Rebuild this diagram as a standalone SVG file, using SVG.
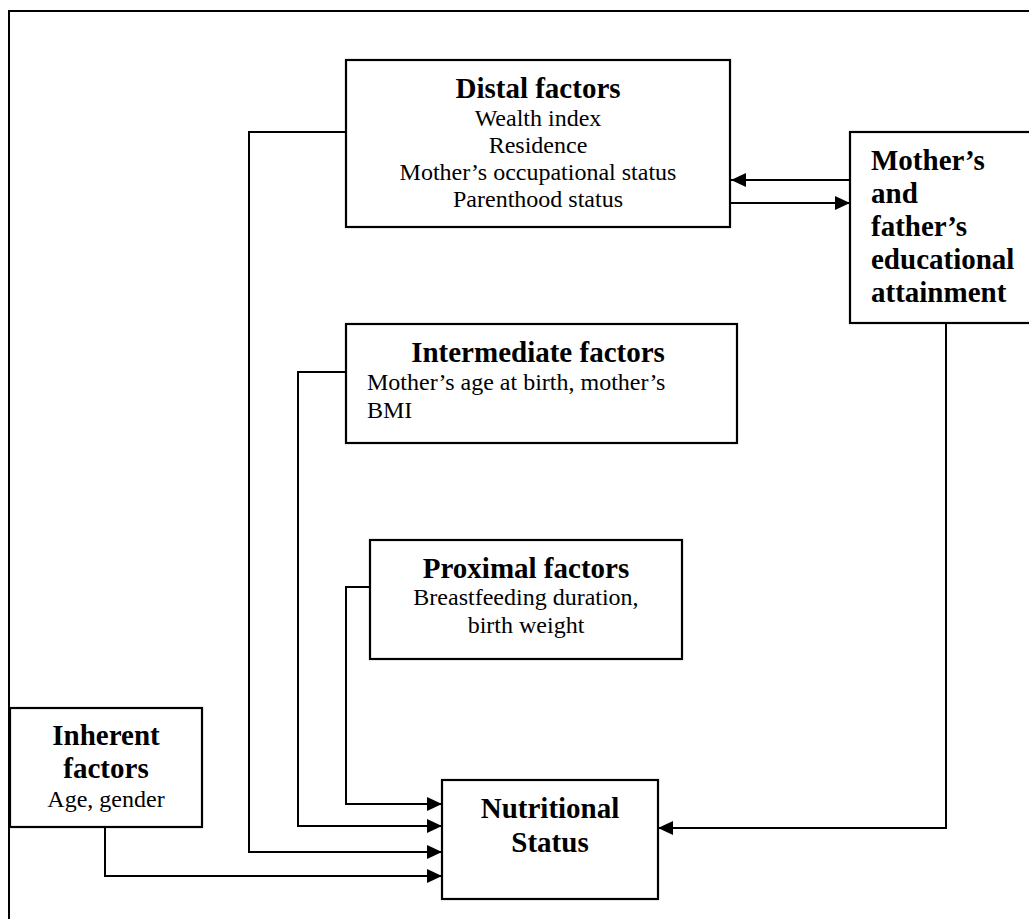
<svg xmlns="http://www.w3.org/2000/svg" width="1029" height="919" viewBox="0 0 1029 919">
<defs>
<style>
.box{fill:#fff;stroke:#000;stroke-width:2.2}
.ln{fill:none;stroke:#000;stroke-width:2}
.t{font-family:"Liberation Serif","Times New Roman",serif;fill:#000}
.b{font-weight:bold;font-size:29px}
.r{font-size:24px}
.c{text-anchor:middle}
</style>
<marker id="ah" markerWidth="16" markerHeight="14" refX="15" refY="7" orient="auto" markerUnits="userSpaceOnUse"><path d="M0,0 L15,7 L0,14 z" fill="#000"/></marker>
</defs>
<rect width="1029" height="919" fill="#fff"/>
<path class="ln" d="M9,921 V11 H1031" stroke-width="2.5"/>
<g id="connectors">
<path class="ln" d="M346,132 H249 V852 H442" marker-end="url(#ah)"/>
<path class="ln" d="M346,372 H298 V826 H442" marker-end="url(#ah)"/>
<path class="ln" d="M370,587 H346 V804 H442" marker-end="url(#ah)"/>
<path class="ln" d="M105,827 V876 H442" marker-end="url(#ah)"/>
<path class="ln" d="M946,323 V828 H658" marker-end="url(#ah)"/>
<path class="ln" d="M850,180 H731" marker-end="url(#ah)"/>
<path class="ln" d="M729,203 H850" marker-end="url(#ah)"/>
</g>
<g id="distal">
<rect class="box" x="346" y="60" width="384" height="167"/>
<text class="t b c" x="538" y="98">Distal factors</text>
<text class="t r c" x="538" y="126">Wealth index</text>
<text class="t r c" x="538" y="153">Residence</text>
<text class="t r c" x="538" y="180">Mother’s occupational status</text>
<text class="t r c" x="538" y="207">Parenthood status</text>
</g>
<g id="education">
<rect class="box" x="850" y="132" width="182" height="191"/>
<text class="t b" x="871" y="170">Mother’s</text>
<text class="t b" x="871" y="203">and</text>
<text class="t b" x="871" y="236">father’s</text>
<text class="t b" x="871" y="269">educational</text>
<text class="t b" x="871" y="302">attainment</text>
</g>
<g id="intermediate">
<rect class="box" x="346" y="324" width="391" height="119"/>
<text class="t b c" x="538" y="362">Intermediate factors</text>
<text class="t r" x="367" y="390">Mother’s age at birth, mother’s</text>
<text class="t r" x="367" y="418">BMI</text>
</g>
<g id="proximal">
<rect class="box" x="370" y="540" width="312" height="119"/>
<text class="t b c" x="526" y="578">Proximal factors</text>
<text class="t r c" x="526" y="605">Breastfeeding duration,</text>
<text class="t r c" x="526" y="633">birth weight</text>
</g>
<g id="inherent">
<rect class="box" x="10" y="708" width="192" height="119"/>
<text class="t b c" x="106" y="745">Inherent</text>
<text class="t b c" x="106" y="778">factors</text>
<text class="t r c" x="106" y="807">Age, gender</text>
</g>
<g id="nutritional">
<rect class="box" x="442" y="780" width="216" height="119"/>
<text class="t b c" x="550" y="818">Nutritional</text>
<text class="t b c" x="550" y="852">Status</text>
</g>
</svg>
